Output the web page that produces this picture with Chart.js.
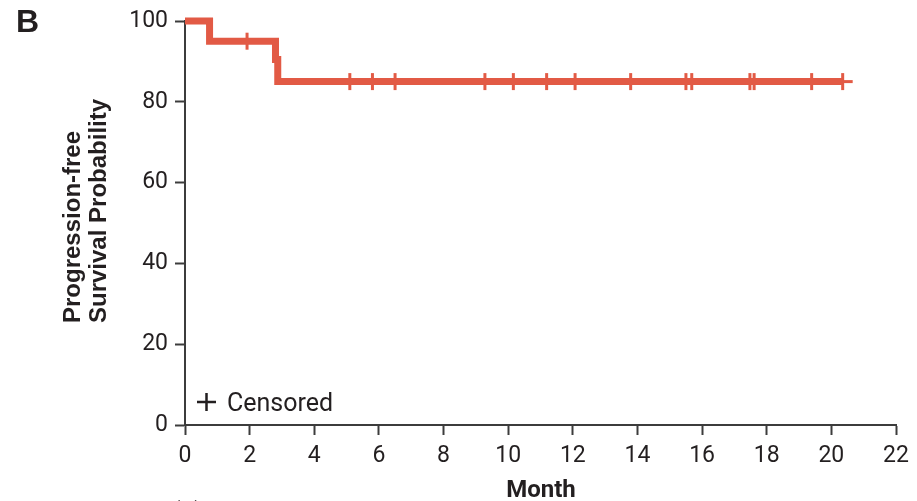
<!DOCTYPE html>
<html><head><meta charset="utf-8">
<script src="https://cdn.jsdelivr.net/npm/chart.js@4.4.1/dist/chart.umd.min.js"></script>
<style>html,body{margin:0;padding:0;background:#fff;}#wrap{width:917px;height:501px;}</style>
</head><body><div id="wrap"><canvas id="c" width="917" height="501"></canvas></div>
<script>
const panelLabel = 'B';
const xTitle = 'Month';
const yTitleLines = ['Progression-free', 'Survival Probability'];
const legendLabel = 'Censored';
const bottomNote = 'At risk (n)';
const xTicks = [0, 2, 4, 6, 8, 10, 12, 14, 16, 18, 20, 22];
const yTicks = [0, 20, 40, 60, 80, 100];
const stepMonths = [0, 0.76, 2.80, 2.87, 20.35];
const stepSurvival = [100, 95, 90.5, 85, 85];
const tailMonths = [20.35, 20.66];
const tailSurvival = [85, 85];
const censorMonths = [1.92, 5.10, 5.80, 6.50, 9.28, 10.16, 11.19, 12.07, 13.79, 15.50, 15.68, 17.48, 17.61, 19.39, 20.35];
const censorSurvival = [95, 85, 85, 85, 85, 85, 85, 85, 85, 85, 85, 85, 85, 85, 85];

const RED = '#E25A45';
const AXIS = '#3c3c3c';
const TEXT = '#231f20';
const toPts = (xs, ys) => xs.map((x, i) => ({x: x, y: ys[i]}));

const textPlugin = {
  id: 'texts',
  afterDraw(chart) {
    const ctx = chart.ctx;
    ctx.save();
    ctx.fillStyle = TEXT;
    ctx.textBaseline = 'alphabetic';
    ctx.textAlign = 'left';
    ctx.font = 'bold 32px "Liberation Sans", Arial, sans-serif';
    ctx.fillText(panelLabel, 16, 32);
    // y title
    ctx.save();
    ctx.font = 'bold 24px "Liberation Sans", Arial, sans-serif';
    ctx.textBaseline = 'middle';
    ctx.translate(0, 323);
    ctx.rotate(-Math.PI / 2);
    ctx.fillText(yTitleLines[0], 0, 73);
    ctx.fillText(yTitleLines[1], 0, 99);
    ctx.restore();
    // x title
    ctx.font = 'bold 24px Roboto, sans-serif';
    ctx.textAlign = 'center';
    ctx.fillText(xTitle, 541, 497);
    // bottom note (cut off)
    ctx.textAlign = 'left';
    ctx.font = 'bold 24px Roboto, sans-serif';
    ctx.fillText(bottomNote, 96, 519);
    // legend
    const a = chart.chartArea;
    ctx.strokeStyle = TEXT;
    ctx.lineWidth = 2.5;
    ctx.beginPath();
    ctx.moveTo(a.left + 12, 402); ctx.lineTo(a.left + 31, 402);
    ctx.moveTo(a.left + 21.5, 393); ctx.lineTo(a.left + 21.5, 411);
    ctx.stroke();
    ctx.font = '25px Roboto, sans-serif';
    ctx.fillText(legendLabel, a.left + 42, 411);
    ctx.restore();
  }
};

const tickFont = {family: 'Roboto, sans-serif', size: 23};

new Chart(document.getElementById('c'), {
  type: 'scatter',
  data: {
    datasets: [
      {type: 'line', data: toPts(stepMonths, stepSurvival), stepped: 'before', borderColor: RED, borderWidth: 7, pointRadius: 0, fill: false, clip: false, borderCapStyle: 'butt', borderJoinStyle: 'miter'},
      {type: 'line', data: toPts(tailMonths, tailSurvival), borderColor: RED, borderWidth: 3, pointRadius: 0, fill: false, clip: false},
      {type: 'scatter', data: toPts(censorMonths, censorSurvival), pointStyle: 'line', rotation: 90, pointRadius: 8.5, borderColor: RED, backgroundColor: RED, pointBorderWidth: 3, borderWidth: 3, clip: false}
    ]
  },
  options: {
    responsive: false,
    animation: false,
    devicePixelRatio: 1,
    layout: {padding: {top: 21, right: 21, left: 0, bottom: 0}},
    plugins: {legend: {display: false}, tooltip: {enabled: false}},
    scales: {
      x: {
        type: 'linear', min: 0, max: 22,
        afterBuildTicks: s => { s.ticks = xTicks.map(v => ({value: v})); },
        afterFit: s => { s.height = 76; },
        ticks: {font: tickFont, color: TEXT, padding: 7, maxRotation: 0, autoSkip: false},
        grid: {display: true, drawOnChartArea: false, drawTicks: true, tickLength: 10, tickWidth: 2, tickColor: AXIS},
        border: {display: true, color: AXIS, width: 2},
        title: {display: false}
      },
      y: {
        type: 'linear', min: 0, max: 100,
        afterBuildTicks: s => { s.ticks = yTicks.map(v => ({value: v})); },
        afterFit: s => { s.width = 185; },
        ticks: {font: tickFont, color: TEXT, padding: 7, autoSkip: false},
        grid: {display: true, drawOnChartArea: false, drawTicks: true, tickLength: 10, tickWidth: 2, tickColor: AXIS},
        border: {display: true, color: AXIS, width: 2},
        title: {display: false}
      }
    }
  },
  plugins: [textPlugin]
});
</script></body></html>
